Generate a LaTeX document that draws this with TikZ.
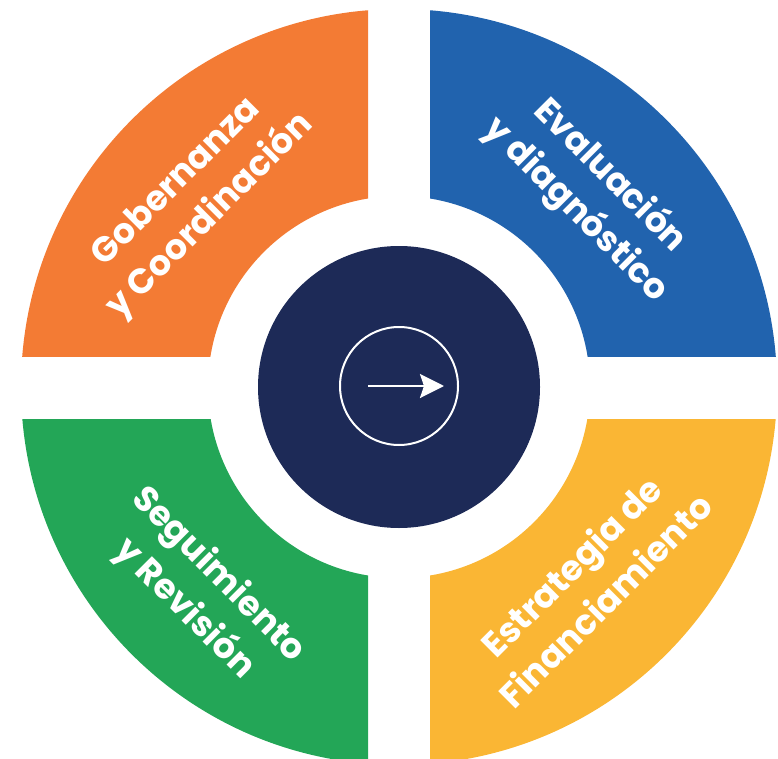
\documentclass[tikz,border=0pt]{standalone}
\usepackage{fontspec}
\setmainfont{Poppins}
\usetikzlibrary{arrows.meta}
\definecolor{govorange}{HTML}{F37B34}
\definecolor{evalblue}{HTML}{2163AE}
\definecolor{trackgreen}{HTML}{23A657}
\definecolor{fundyellow}{HTML}{FAB634}
\definecolor{hubnavy}{HTML}{1D2A57}
\tikzset{
  sectorlabel/.style={text=white, font=\bfseries\fontsize{35}{48}\selectfont, align=center, inner sep=0pt},
}
\begin{document}
\begin{tikzpicture}[x=1pt, y=-1pt]
	\useasboundingbox (0,0) rectangle (778,759);
	\coordinate (c) at (399,387);
	% quarter rings, cut by the white cross
	\begin{scope}
		\clip (0,0) rectangle (368,356);
		\fill[govorange, even odd rule] (c) circle (378pt) (c) circle (191pt);
	\end{scope}
	\begin{scope}
		\clip (430,0) rectangle (778,356);
		\fill[evalblue, even odd rule] (c) circle (378pt) (c) circle (191pt);
	\end{scope}
	\begin{scope}
		\clip (0,419) rectangle (368,759);
		\fill[trackgreen, even odd rule] (c) circle (378pt) (c) circle (191pt);
	\end{scope}
	\begin{scope}
		\clip (430,419) rectangle (778,759);
		\fill[fundyellow, even odd rule] (c) circle (378pt) (c) circle (191pt);
	\end{scope}
	% hub
	\node[circle, fill=hubnavy, minimum size=282pt, inner sep=0pt] (hub) at (c) {};
	\node[circle, draw=white, line width=2pt, minimum size=118pt, inner sep=0pt] (ring) at (399,386) {};
	\coordinate (arrowtail) at (368,386);
	\coordinate (arrowtip) at (444,386);
	\draw[white, line width=2.6pt, -{Stealth[length=24pt, width=24pt, inset=4pt]}] (arrowtail) -- (arrowtip);
	% labels
	\node[sectorlabel, rotate=45] (gobernanza) at (194,200) {Gobernanza\\y Coordinación};
	\node[sectorlabel, rotate=-45] (evaluacion) at (593,193) {Evaluación\\y diagnóstico};
	\node[sectorlabel, rotate=-45] (seguimiento) at (201,592) {Seguimiento\\y Revisión};
	\node[sectorlabel, rotate=45] (estrategia) at (588,583) {Estrategia de\\Financiamiento};
\end{tikzpicture}
\end{document}
